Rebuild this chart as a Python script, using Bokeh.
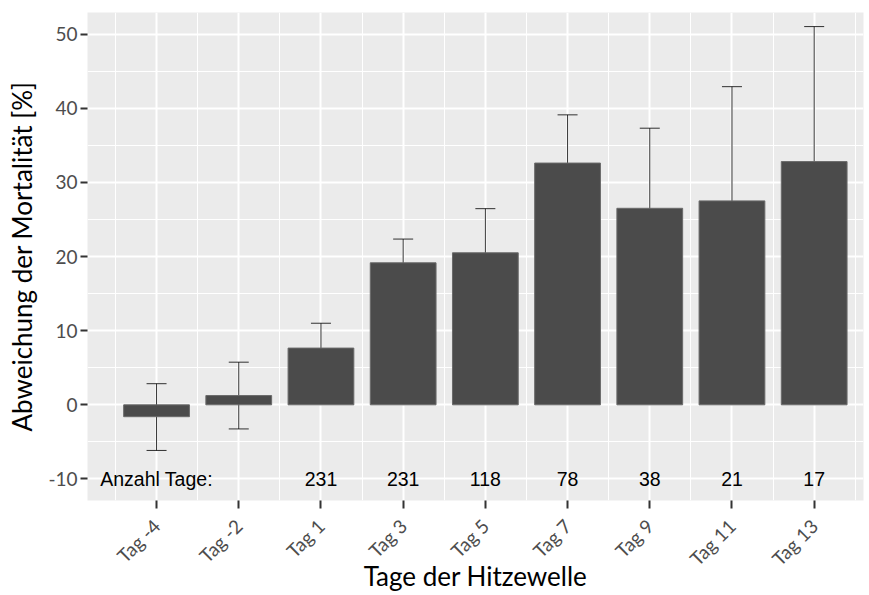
import math
from bokeh.plotting import figure
from bokeh.models import ColumnDataSource, FixedTicker, Whisker, TeeHead, Range1d
from bokeh.core.properties import value
from bokeh.embed import file_html
from bokeh.resources import INLINE

# ---- data ----
categories = ["Tag -4", "Tag -2", "Tag 1", "Tag 3", "Tag 5", "Tag 7", "Tag 9", "Tag 11", "Tag 13"]
deviation = [-1.6, 1.25, 7.65, 19.15, 20.5, 32.6, 26.5, 27.5, 32.8]
ci_lower = [-6.15, -3.25, 4.3, 16.0, 14.65, 26.1, 15.65, 12.1, 14.6]
ci_upper = [2.85, 5.75, 11.0, 22.35, 26.45, 39.1, 37.3, 42.9, 51.0]
count_labels = ["Anzahl Tage:", "", "231", "231", "118", "78", "38", "21", "17"]
count_label_y = -10
y_ticks = [-10, 0, 10, 20, 30, 40, 50]
y_tick_labels = ["-10", "0", "10", "20", "30", "40", "50"]
y_minor = [-5, 5, 15, 25, 35, 45]

xpos = list(range(1, len(categories) + 1))
x_minor = [i - 0.5 for i in xpos] + [xpos[-1] + 0.5]

src = ColumnDataSource(dict(x=xpos, top=deviation, lo=ci_lower, hi=ci_upper,
                            lab=count_labels, ly=[count_label_y] * len(xpos)))

p = figure(width=869, height=595, output_backend="svg", toolbar_location=None,
           x_range=Range1d(0.16, 9.6), y_range=Range1d(-12.9, 52.9),
           min_border_left=87, min_border_right=6, min_border_top=12, min_border_bottom=95)

p.background_fill_color = "#EBEBEB"
p.border_fill_color = "white"
p.outline_line_color = None

p.vbar(x="x", top="top", bottom=0, width=0.8, source=src,
       fill_color="#4B4B4B", line_color="#6A6A6A", line_width=1)

w = Whisker(base="x", lower="lo", upper="hi", source=src, dimension="height",
            line_color="black", line_alpha=0.8, line_width=1,
            upper_head=TeeHead(size=20, line_color="black", line_alpha=0.8, line_width=1),
            lower_head=TeeHead(size=20, line_color="black", line_alpha=0.8, line_width=1))
p.add_layout(w)

p.text(x="x", y="ly", text="lab", source=src, text_align="center",
       text_baseline="alphabetic", text_font=value("Liberation Sans"),
       text_font_size="19.5px", text_color="black")

# axes
p.xaxis.ticker = FixedTicker(ticks=xpos, minor_ticks=x_minor)
p.xaxis.major_label_overrides = {x: c for x, c in zip(xpos, categories)}
p.yaxis.ticker = FixedTicker(ticks=y_ticks, minor_ticks=y_minor)
p.yaxis.major_label_overrides = {t: l for t, l in zip(y_ticks, y_tick_labels)}

for ax in (p.xaxis, p.yaxis):
    ax.axis_line_color = None
    ax.major_tick_line_color = "#333333"
    ax.major_tick_line_width = 2
    ax.major_tick_in = 0
    ax.minor_tick_line_color = None
    ax.major_label_text_font = "Lato"
    ax.major_label_text_font_size = "19px"
    ax.major_label_text_color = "#4D4D4D"
    ax.axis_label_text_font = "Lato"
    ax.axis_label_text_font_size = "26px"
    ax.axis_label_text_font_style = "normal"
    ax.axis_label_text_color = "black"

p.xaxis.major_tick_out = 8
p.yaxis.major_tick_out = 7
p.xaxis.major_label_orientation = math.pi / 4
p.xaxis.axis_label = "Tage der Hitzewelle"
p.yaxis.axis_label = "Abweichung der Mortalität [%]"
p.yaxis.major_label_standoff = 3
p.xaxis.major_label_standoff = 14
p.yaxis.axis_label_standoff = 7
p.xaxis.axis_label_standoff = -21
p.xaxis.axis_label_text_baseline = "alphabetic"

p.xgrid.ticker = p.xaxis.ticker
p.ygrid.ticker = p.yaxis.ticker
p.grid.grid_line_color = "white"
p.grid.grid_line_width = 2
p.grid.minor_grid_line_color = "white"
p.grid.minor_grid_line_width = 1

open("out.html", "w").write(file_html(p, INLINE))
